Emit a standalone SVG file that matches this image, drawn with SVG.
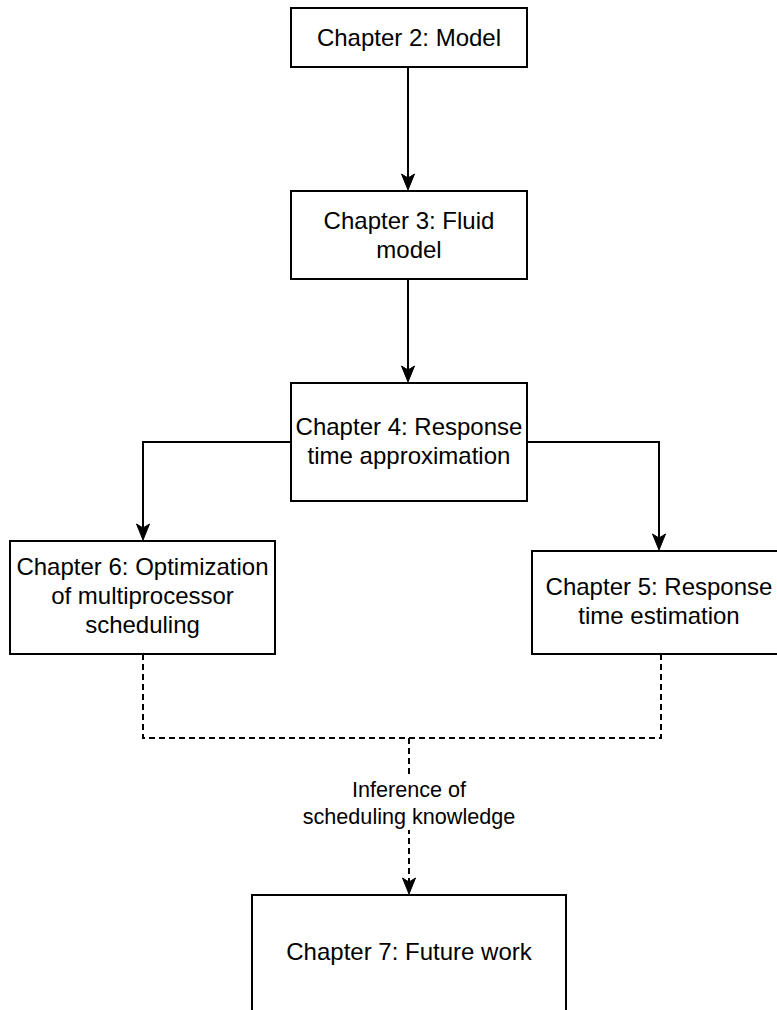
<svg xmlns="http://www.w3.org/2000/svg" width="777" height="1010" viewBox="0 0 777 1010">
<style>
.box{fill:#ffffff;stroke:#000000;stroke-width:2}
.t{font-family:"Liberation Sans",Arial,sans-serif;font-size:24px;fill:#000000;text-anchor:middle}
.lbl{font-family:"Liberation Sans",Arial,sans-serif;font-size:21.6px;fill:#000000;text-anchor:middle}
.edge{fill:none;stroke:#000000;stroke-width:2}
.dash{stroke-dasharray:6 4}
</style>
<defs>
<marker id="arr" markerUnits="userSpaceOnUse" markerWidth="18" markerHeight="15" refX="12" refY="7" orient="auto" overflow="visible">
<path d="M0,0.5 L16,7 L0,13.5 L4,7 Z" fill="#000000" stroke="#000000" stroke-width="1"/>
</marker>
</defs>
<rect width="777" height="1010" fill="#ffffff"/>
<g id="connectors">
<path class="edge" d="M408,67 L408,186" marker-end="url(#arr)"/>
<path class="edge" d="M408,279 L408,378" marker-end="url(#arr)"/>
<path class="edge" d="M291,442 L143,442 L143,536" marker-end="url(#arr)"/>
<path class="edge" d="M527,442 L659,442 L659,546" marker-end="url(#arr)"/>
<path class="edge dash" d="M143,654 L143,738 L661,738 L661,654"/>
<path class="edge dash" d="M409,738 L409,890" marker-end="url(#arr)"/>
<g id="edge-label">
<rect x="300" y="776" width="218" height="54" fill="#ffffff"/>
<text class="lbl" x="409" y="797">Inference of</text>
<text class="lbl" x="409" y="824">scheduling knowledge</text>
</g>
</g>
<g id="ch2">
<rect class="box" x="291" y="8" width="236" height="59"/>
<text class="t" x="409" y="46">Chapter 2: Model</text>
</g>
<g id="ch3">
<rect class="box" x="291" y="191" width="236" height="88"/>
<text class="t" x="409" y="229">Chapter 3: Fluid</text>
<text class="t" x="409" y="258">model</text>
</g>
<g id="ch4">
<rect class="box" x="291" y="383" width="236" height="118"/>
<text class="t" x="409" y="435">Chapter 4: Response</text>
<text class="t" x="409" y="464">time approximation</text>
</g>
<g id="ch6">
<rect class="box" x="10" y="541" width="265" height="113"/>
<text class="t" x="142.5" y="575">Chapter 6: Optimization</text>
<text class="t" x="142.5" y="604">of multiprocessor</text>
<text class="t" x="142.5" y="633">scheduling</text>
</g>
<g id="ch5">
<rect class="box" x="532" y="551" width="256" height="103"/>
<text class="t" x="659" y="595">Chapter 5: Response</text>
<text class="t" x="659" y="624">time estimation</text>
</g>
<g id="ch7">
<rect class="box" x="252" y="895" width="314" height="125"/>
<text class="t" x="409" y="960">Chapter 7: Future work</text>
</g>
</svg>
